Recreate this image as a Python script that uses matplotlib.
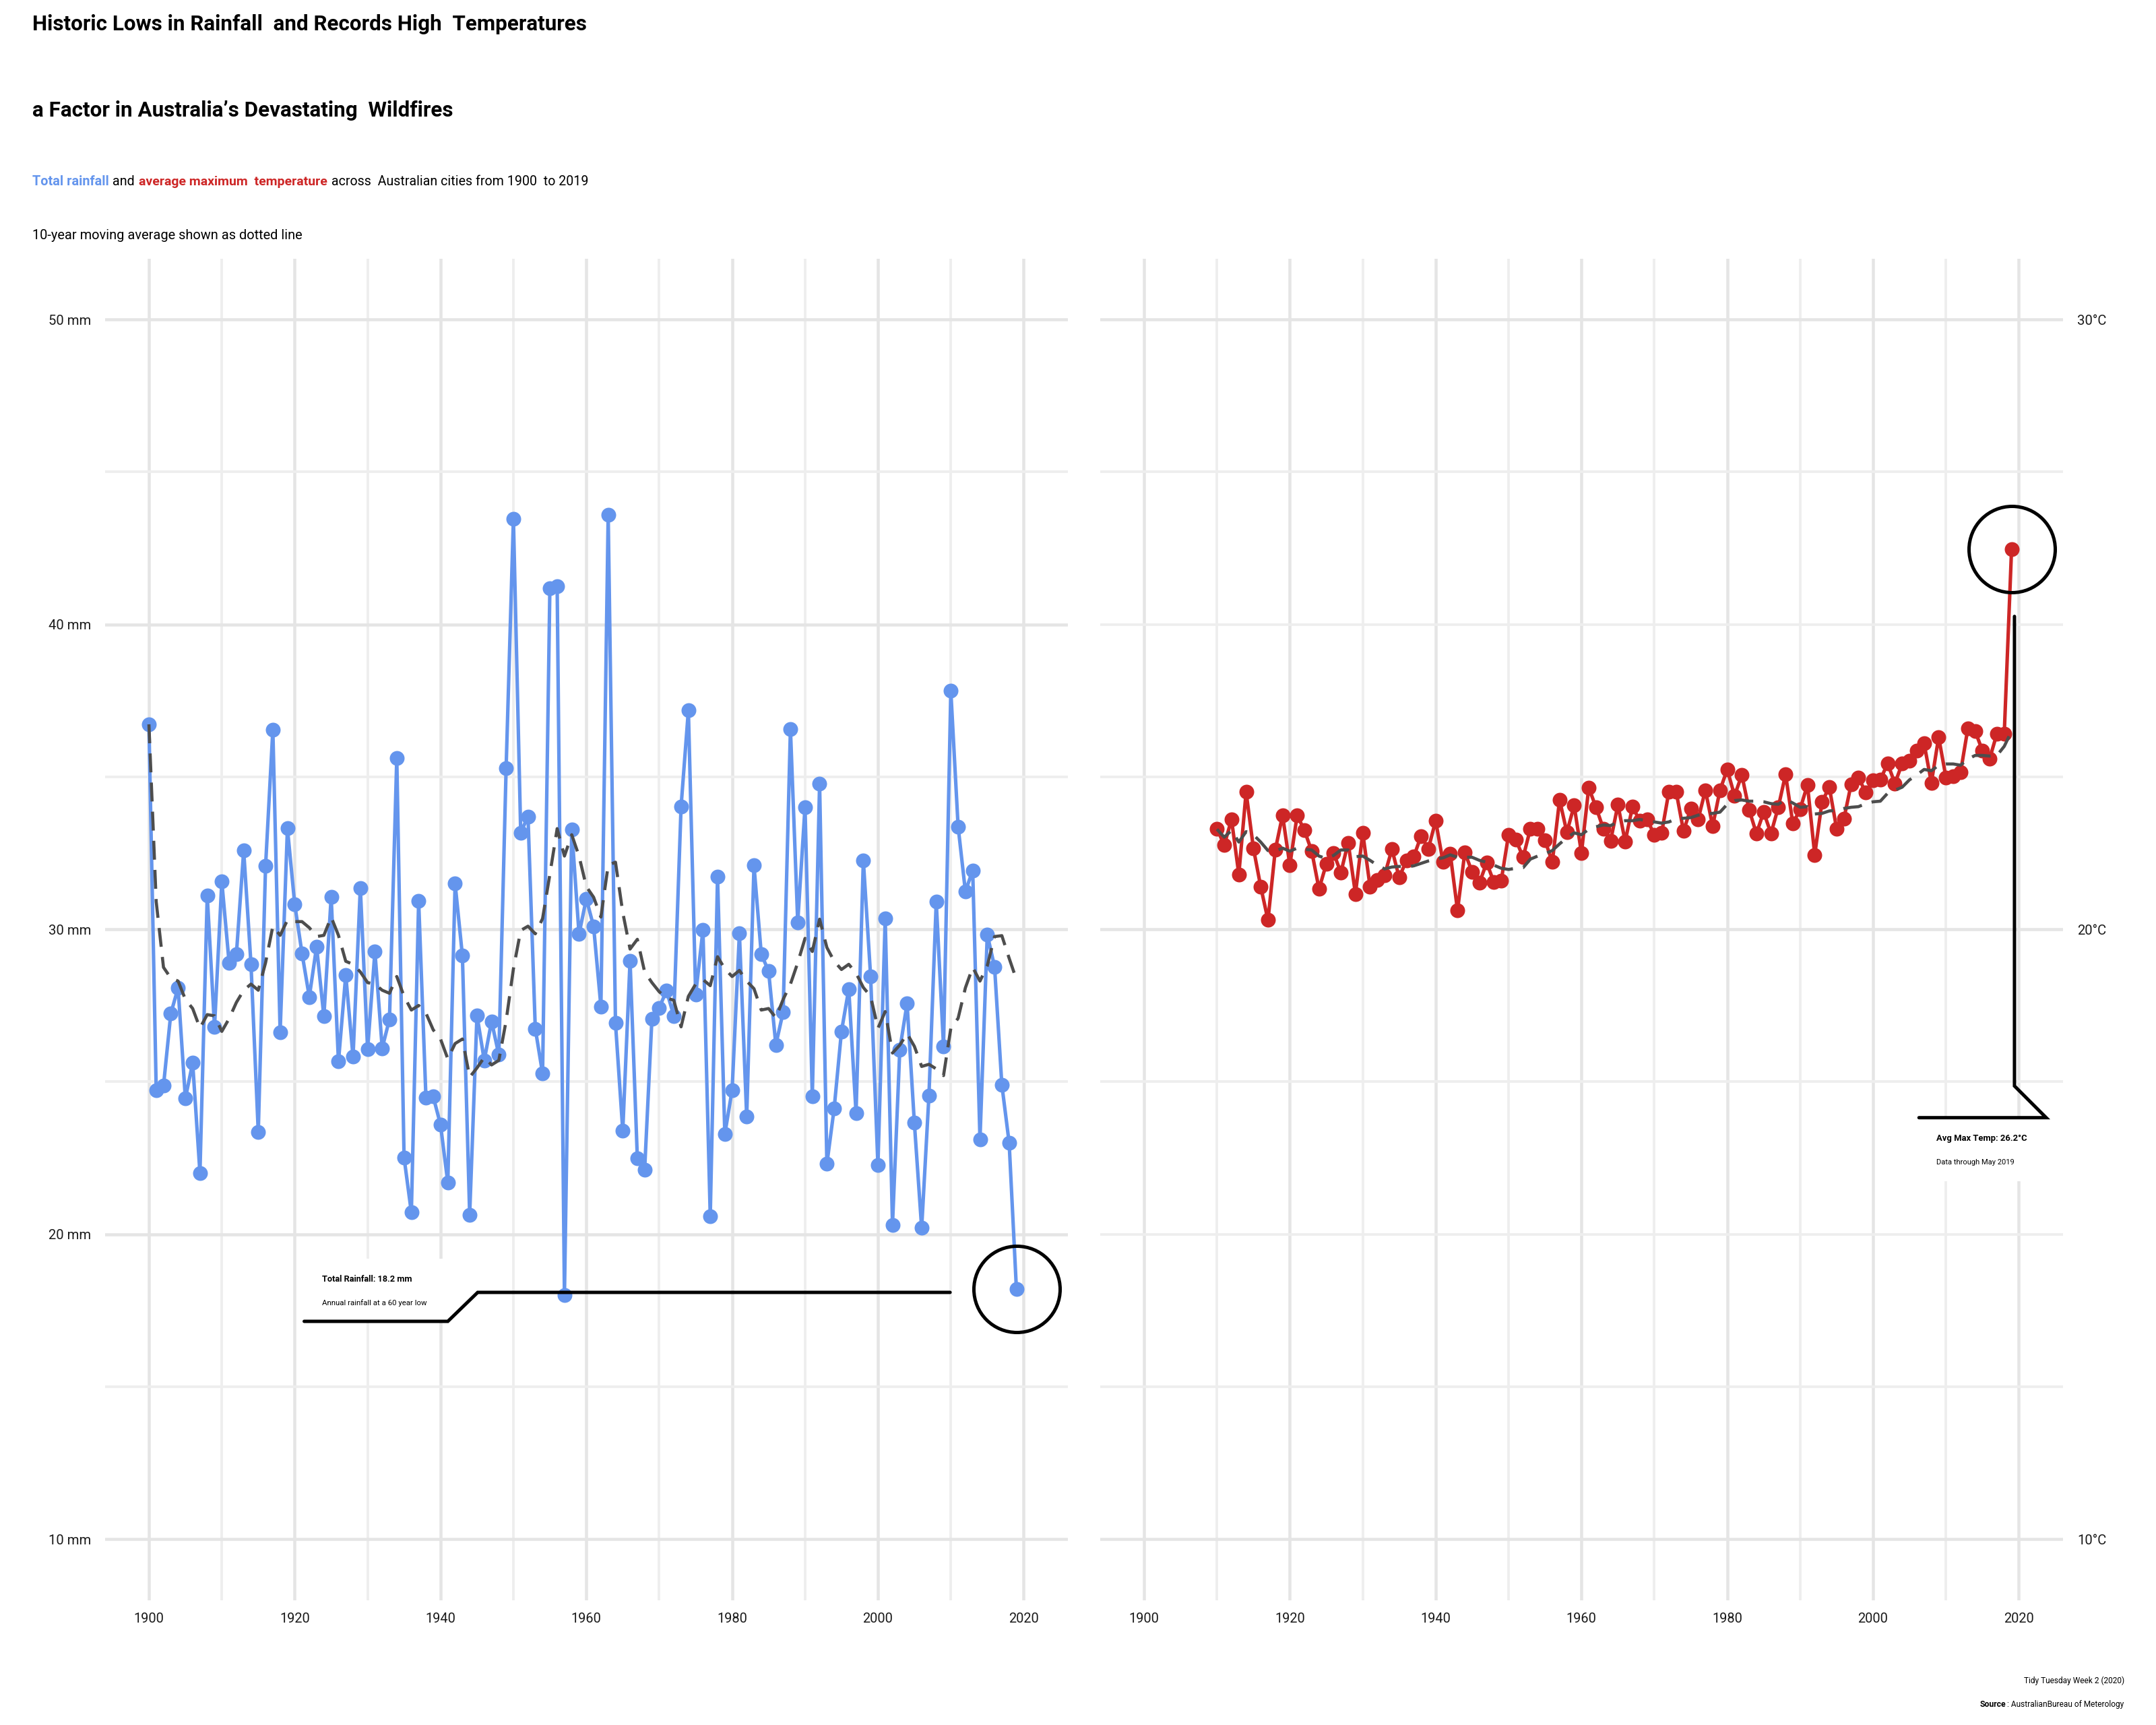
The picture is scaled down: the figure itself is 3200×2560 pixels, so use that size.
import matplotlib
matplotlib.use("Agg")
import numpy as np
from matplotlib import pyplot as plt
from matplotlib.patches import Rectangle

plt.rcParams['font.family'] = ['Roboto', 'DejaVu Sans']

BLUE = '#6495ED'
RED = '#CD2626'
DARK = '#4D4D4D'

rain_years = np.arange(1900, 2020)
rain = [36.72, 24.73, 24.87, 27.23, 28.08, 24.45, 25.62, 22.01, 31.1, 26.8,
        31.56, 28.9, 29.18, 32.58, 28.86, 23.35, 32.07, 36.54, 26.63, 33.31,
        30.82, 29.21, 27.78, 29.43, 27.14, 31.06, 25.66, 28.5, 25.82, 31.36,
        26.06, 29.27, 26.1, 27.05, 35.62, 22.51, 20.71, 30.93, 24.47, 24.51,
        23.59, 21.69, 31.5, 29.14, 20.64, 27.18, 25.7, 26.98, 25.88, 35.29,
        43.46, 33.17, 33.7, 26.74, 25.27, 41.19, 41.26, 18.0, 33.28, 29.84,
        31.0, 30.09, 27.47, 43.6, 26.92, 23.39, 28.97, 22.49, 22.11, 27.07,
        27.42, 27.99, 27.16, 34.03, 37.18, 27.86, 29.98, 20.59, 31.72, 23.28,
        24.73, 29.87, 23.85, 32.09, 29.18, 28.63, 26.21, 27.29, 36.57, 30.23,
        34.01, 24.52, 34.77, 22.3, 24.13, 26.65, 28.04, 23.97, 32.26, 28.45,
        22.26, 30.35, 20.31, 26.05, 27.57, 23.65, 20.2, 24.55, 30.9, 26.16,
        37.82, 33.37, 31.24, 31.93, 23.1, 29.83, 28.77, 24.9, 23.0, 18.19]
rain_ma = [36.72, 30.9, 28.75, 28.4, 28.3, 27.7, 27.4, 26.76, 27.2, 27.16,
           26.65, 27.07, 27.6, 28.0, 28.2, 28.0, 28.9, 30.1, 29.8, 30.3,
           30.25, 30.25, 30.05, 29.76, 29.8, 30.4, 29.8, 28.95, 28.85, 28.6,
           28.25, 28.2, 28.0, 27.9, 28.45, 27.8, 27.35, 27.5, 27.25, 26.7,
           26.4, 25.75, 26.25, 26.4, 25.15, 25.45, 25.8, 25.55, 25.7, 27.0,
           28.7, 29.96, 30.1, 29.85, 30.35, 31.8, 33.3, 32.4, 33.1, 32.4,
           31.4, 31.05, 30.4, 32.1, 32.2, 30.55, 29.35, 29.67, 28.6, 28.25,
           27.95, 27.75, 27.67, 26.8, 27.8, 28.2, 28.35, 28.15, 29.1, 28.7,
           28.45, 28.65, 28.3, 28.05, 27.35, 27.4, 27.1, 27.7, 28.2, 28.9,
           29.7, 29.27, 30.33, 29.4, 28.95, 28.68, 28.85, 28.56, 28.09, 27.8,
           26.75, 27.3, 25.94, 26.2, 26.58, 26.16, 25.5, 25.57, 25.42, 25.2,
           26.75, 27.08, 28.08, 28.75, 28.3, 28.8, 29.76, 29.79, 29.05, 28.35]

temp_years = np.arange(1910, 2020)
temp = [21.65, 21.38, 21.8, 20.9, 22.25, 21.33, 20.7, 20.15, 21.3, 21.87,
        21.05, 21.87, 21.62, 21.28, 20.66, 21.07, 21.25, 20.93, 21.42, 20.58,
        21.58, 20.7, 20.81, 20.89, 21.31, 20.85, 21.13, 21.19, 21.53, 21.32,
        21.78, 21.11, 21.24, 20.31, 21.26, 20.94, 20.76, 21.09, 20.77, 20.8,
        21.55, 21.47, 21.18, 21.65, 21.65, 21.46, 21.1, 22.12, 21.59, 22.03,
        21.25, 22.32, 22.0, 21.65, 21.45, 22.04, 21.44, 22.01, 21.78, 21.8,
        21.55, 21.58, 22.26, 22.25, 21.61, 21.98, 21.8, 22.28, 21.69, 22.28,
        22.62, 22.19, 22.53, 21.96, 21.57, 21.92, 21.57, 22.0, 22.54, 21.73,
        21.97, 22.37, 21.22, 22.09, 22.33, 21.65, 21.81, 22.38, 22.49, 22.24,
        22.44, 22.45, 22.72, 22.39, 22.72, 22.76, 22.93, 23.05, 22.4, 23.15,
        22.49, 22.51, 22.57, 23.29, 23.25, 22.93, 22.8, 23.21, 23.21, 26.23]
temp_ma = [21.64, 21.51, 21.62, 21.43, 21.6, 21.55, 21.43, 21.29, 21.28, 21.33,
           21.28, 21.33, 21.31, 21.3, 21.2, 21.16, 21.21, 21.3, 21.3, 21.19,
           21.2, 21.13, 21.05, 20.99, 21.02, 21.03, 21.02, 21.04, 21.08, 21.12,
           21.15, 21.17, 21.22, 21.18, 21.18, 21.18, 21.13, 21.1, 21.05, 21.0,
           20.98, 21.0, 21.01, 21.15, 21.2, 21.24, 21.29, 21.4, 21.5, 21.58,
           21.55, 21.64, 21.68, 21.71, 21.7, 21.76, 21.78, 21.78, 21.8, 21.78,
           21.76, 21.74, 21.76, 21.81, 21.82, 21.83, 21.87, 21.89, 21.9, 21.92,
           22.05, 22.11, 22.12, 22.1, 22.1, 22.09, 22.06, 22.05, 22.13, 22.07,
           22.0, 22.01, 21.89, 21.9, 21.94, 21.95, 21.98, 22.0, 22.01, 22.06,
           22.09, 22.1, 22.23, 22.28, 22.33, 22.45, 22.53, 22.62, 22.6, 22.69,
           22.71, 22.71, 22.69, 22.79, 22.85, 22.85, 22.84, 22.85, 23.0, 23.25]

year_ticks = [1900, 1920, 1940, 1960, 1980, 2000, 2020]
year_minor = [1910, 1930, 1950, 1970, 1990, 2010]
rain_ticks = [10, 20, 30, 40, 50]
rain_labels = ['10 mm', '20 mm', '30 mm', '40 mm', '50 mm']
rain_minor = [15, 25, 35, 45]
temp_ticks = [10, 20, 30]
temp_labels = ['10°C', '20°C', '30°C']
temp_minor = [12.5, 15, 17.5, 22.5, 25, 27.5]

# leader lines of the two callouts, in data units
rain_leader_x = [1921.3, 1941, 1945.1, 2009.9]
rain_leader_y = [17.14, 17.14, 18.09, 18.09]
temp_leader_x = [2019.4, 2019.4, 2023.75, 2006.3]
temp_leader_y = [25.13, 17.43, 16.91, 16.91]

W, H = 3200, 2560
DPI = 200


def pt(px):
    return px * 72 / DPI


def put(x, y, s, **kw):
    # x, y in pixels from the top left of the picture
    return fig.text(x / W, 1 - y / H, s, va='baseline', **kw)


def make_axes(left, ylim, ticks, labels, minor, right=False):
    ax = fig.add_axes([left / W, 1 - 2375 / H, 1429 / W, 1991 / H])
    ax.set_xlim(1893.99, 2026.06)
    ax.set_ylim(*ylim)
    ax.set_xticks(year_ticks)
    ax.set_xticks(year_minor, minor=True)
    ax.set_yticks(ticks)
    ax.set_yticklabels(labels)
    ax.set_yticks(minor, minor=True)
    ax.grid(which='major', color='#E5E5E5', lw=pt(4.6))
    ax.grid(which='minor', color='#EEEEEE', lw=pt(3.8))
    ax.set_axisbelow(True)
    ax.tick_params(which='both', length=0)
    ax.tick_params(axis='x', labelsize=7.2, pad=6.5, labelcolor='#1A1A1A')
    ax.tick_params(axis='y', labelsize=7.3, pad=7.5, labelcolor='#1A1A1A')
    if right:
        ax.yaxis.tick_right()
    for s in ax.spines.values():
        s.set_visible(False)
    return ax


def draw_series(ax, x, y, ma, color):
    ax.plot(x, y, color=color, lw=pt(5.2), marker='o', ms=pt(22), mew=0, zorder=3)
    ax.plot(x, ma, color=DARK, lw=pt(4.6), ls=(0, (6.1, 3.3)),
            dash_capstyle='butt', zorder=4)


def draw_callout(ax, px, py, lx, ly, box):
    ax.add_patch(Rectangle(box[:2], box[2], box[3], fc='white', ec='none', zorder=1))
    ax.plot(lx, ly, color='black', lw=pt(5), solid_capstyle='round',
            solid_joinstyle='miter', zorder=5)
    ax.plot([px], [py], 'o', ms=pt(128), mfc='none', mec='black', mew=pt(5), zorder=5)


fig = plt.figure(figsize=(W / DPI, H / DPI), dpi=DPI, facecolor='white')

ax1 = make_axes(156, (7.99, 51.99), rain_ticks, rain_labels, rain_minor)
draw_series(ax1, rain_years, rain, rain_ma, BLUE)
draw_callout(ax1, rain_years[-1], rain[-1], rain_leader_x, rain_leader_y,
             (1921.3, 17.14, 19.7, 2.06))

ax2 = make_axes(1633, (8.995, 30.995), temp_ticks, temp_labels, temp_minor, right=True)
draw_series(ax2, temp_years, temp, temp_ma, RED)
draw_callout(ax2, temp_years[-1], temp[-1], temp_leader_x, temp_leader_y,
             (2006.3, 15.87, 17.45, 1.04))

put(48, 45, 'Historic Lows in Rainfall  and Records High  Temperatures',
    fontsize=11.3, fontweight='bold', color='black')
put(48, 173, 'a Factor in Australia’s Devastating  Wildfires',
    fontsize=11.3, fontweight='bold', color='black')

put(48, 275, 'Total rainfall', fontsize=7.15, fontweight='bold', color=BLUE)
put(167, 275, 'and', fontsize=7.1, color='black')
put(206, 275, 'average maximum  temperature', fontsize=7.0, fontweight='bold', color=RED)
put(492, 275, 'across  Australian cities from 1900  to 2019', fontsize=7.05, color='black')
put(48, 355, '10-year moving average shown as dotted line', fontsize=7.2, color='black')

put(478, 1902, 'Total Rainfall: 18.2 mm', fontsize=4.6, fontweight='bold', color='black')
put(478, 1937, 'Annual rainfall at a 60 year low', fontsize=4.1, color='black')
put(2874, 1693, 'Avg Max Temp: 26.2°C', fontsize=4.7, fontweight='bold', color='black')
put(2874, 1728, 'Data through May 2019', fontsize=4.0, color='black')

put(3153, 2498, 'Tidy Tuesday Week 2 (2020)', fontsize=4.3, ha='right', color='black')
put(2977, 2533, 'Source', fontsize=4.4, fontweight='bold', ha='right', color='black')
put(3152, 2533, ': AustralianBureau of Meterology', fontsize=4.3, ha='right', color='black')

fig.savefig('out.png', dpi=DPI)
